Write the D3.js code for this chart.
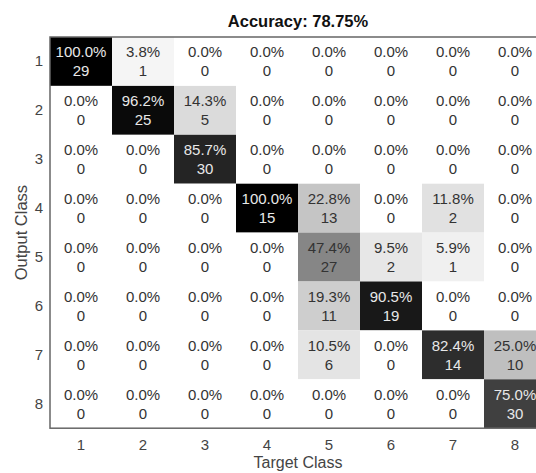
<!DOCTYPE html>
<html>
<head>
<meta charset="utf-8">
<script src="https://cdn.jsdelivr.net/npm/d3@7"></script>
<style>
  body { margin: 0; background: #fff; }
  svg { display: block; font-family: "Liberation Sans", Arial, sans-serif; }
</style>
</head>
<body>
<script>
// class labels (rows = output class, columns = target class)
const classes = ["1", "2", "3", "4", "5", "6", "7", "8"];

// counts[row][col] : output class row, target class col
const counts = [
  [29, 1, 0, 0, 0, 0, 0, 0],
  [0, 25, 5, 0, 0, 0, 0, 0],
  [0, 0, 30, 0, 0, 0, 0, 0],
  [0, 0, 0, 15, 13, 0, 2, 0],
  [0, 0, 0, 0, 27, 2, 1, 0],
  [0, 0, 0, 0, 11, 19, 0, 0],
  [0, 0, 0, 0, 6, 0, 14, 10],
  [0, 0, 0, 0, 0, 0, 0, 30]
];

const width = 536, height = 473;
const margin = {top: 37, left: 50};
const cellW = 62, cellH = 48.9;

// column totals -> column-normalised percentages
const colSum = classes.map((c, j) => d3.sum(counts, r => r[j]));
const cells = [];
counts.forEach((row, i) => row.forEach((v, j) => {
  cells.push({row: classes[i], col: classes[j], n: v, p: colSum[j] ? v / colSum[j] : 0});
}));
const correct = d3.sum(classes, (c, i) => counts[i][i]);
const total = d3.sum(colSum);

const x = d3.scaleBand()
  .domain(classes)
  .range([margin.left, margin.left + cellW * classes.length]);
const y = d3.scaleBand()
  .domain(classes)
  .range([margin.top, margin.top + cellH * classes.length]);
const shade = d3.scaleLinear().domain([0, 1]).range(["#ffffff", "#000000"]);

const svg = d3.select("body").append("svg")
  .attr("width", width)
  .attr("height", height);

svg.append("g")
  .selectAll("rect")
  .data(cells)
  .join("rect")
  .attr("x", d => x(d.col))
  .attr("y", d => y(d.row))
  .attr("width", x.bandwidth())
  .attr("height", y.bandwidth())
  .attr("fill", d => shade(d.p));

const txt = svg.append("g")
  .attr("text-anchor", "middle")
  .style("font-size", "15px")
  .selectAll("g")
  .data(cells)
  .join("g")
  .attr("transform", d => `translate(${x(d.col) + x.bandwidth() / 2},${y(d.row) + y.bandwidth() / 2})`)
  .attr("fill", d => d.p > 0.5 ? "#e8e8e8" : "#333");

txt.append("text")
  .attr("y", -4)
  .text(d => (d.p * 100).toFixed(1) + "%");
txt.append("text")
  .attr("y", 15)
  .text(d => d.n);

// frame
svg.append("rect")
  .attr("x", x.range()[0])
  .attr("y", y.range()[0])
  .attr("width", x.range()[1] - x.range()[0])
  .attr("height", y.range()[1] - y.range()[0])
  .attr("fill", "none")
  .attr("stroke", "#666")
  .attr("stroke-width", 1.5);

const xAxis = svg.append("g")
  .attr("transform", `translate(0,${y.range()[1]})`)
  .call(d3.axisBottom(x).tickSize(0).tickPadding(11));
const yAxis = svg.append("g")
  .attr("transform", `translate(${x.range()[0]},0)`)
  .call(d3.axisLeft(y).tickSize(0).tickPadding(7));
[xAxis, yAxis].forEach(a => {
  a.select(".domain").remove();
  a.selectAll("text")
    .attr("fill", "#444")
    .style("font-size", "15px")
    .style("font-family", "'Liberation Sans', Arial, sans-serif");
});

svg.append("text")
  .attr("x", (x.range()[0] + x.range()[1]) / 2)
  .attr("y", 27)
  .attr("text-anchor", "middle")
  .style("font-size", "16.5px")
  .style("font-weight", "bold")
  .attr("fill", "#111")
  .text("Accuracy: " + (correct / total * 100).toFixed(2) + "%");

svg.append("text")
  .attr("x", (x.range()[0] + x.range()[1]) / 2)
  .attr("y", 468)
  .attr("text-anchor", "middle")
  .style("font-size", "16px")
  .attr("fill", "#444")
  .text("Target Class");

svg.append("text")
  .attr("transform", `translate(27,${(y.range()[0] + y.range()[1]) / 2}) rotate(-90)`)
  .attr("text-anchor", "middle")
  .style("font-size", "16.5px")
  .attr("fill", "#444")
  .text("Output Class");
</script>
</body>
</html>
